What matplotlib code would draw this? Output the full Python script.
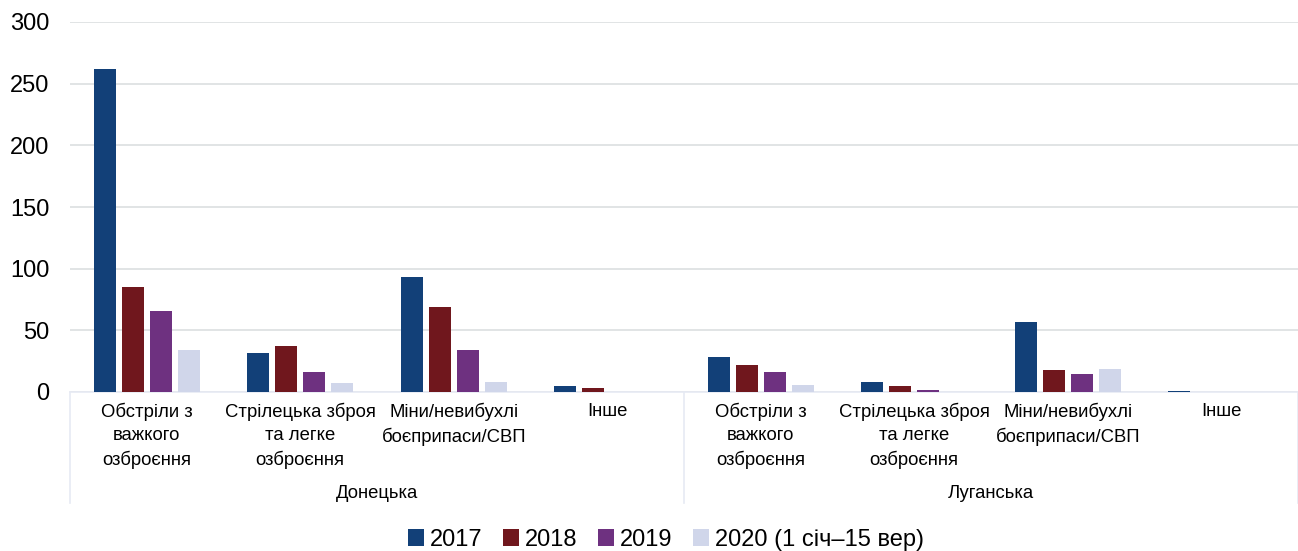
import matplotlib
matplotlib.use("Agg")
import matplotlib.pyplot as plt
import matplotlib.transforms as mtransforms
import numpy as np

plt.rcParams['font.family'] = ['Liberation Sans', 'DejaVu Sans']

# data
regions = ["Донецька", "Луганська"]
categories = ["Обстріли з\nважкого\nозброєння",
              "Стрілецька зброя\nта легке\nозброєння",
              "Міни/невибухлі\nбоєприпаси/СВП",
              "Інше"]
series_names = ["2017", "2018", "2019", "2020 (1 січ–15 вер)"]
colors = ["#124078", "#70171d", "#6e3180", "#d0d6ea"]

# per series: Донецька (4 categories) + Луганська (4 categories)
v2017 = [262, 32, 93, 5, 28, 8, 57, 1]
v2018 = [85, 37, 69, 3, 22, 5, 18, 0]
v2019 = [66, 16, 34, 0, 16, 2, 15, 0]
v2020 = [34, 7, 8, 0, 6, 0, 19, 0]
values = [v2017, v2018, v2019, v2020]

fig = plt.figure(figsize=(12.98, 5.51), dpi=100)
ax = fig.add_axes([70/1298, 1-392/551, 1-70/1298, 370/551])

labels = categories * len(regions)
pos = np.arange(len(labels))
step = 0.182
width = 0.143
for i, vals in enumerate(values):
    ax.bar(pos + (i - 1.5) * step, vals, width, color=colors[i], label=series_names[i], zorder=3)

ax.set_xlim(-0.5, len(labels) - 0.5)
ax.set_ylim(0, 300)
ax.set_yticks(range(0, 301, 50))
ax.tick_params(axis='y', length=0, pad=15, labelsize=17)
ax.set_xticks(pos)
ax.set_xticklabels(labels, fontsize=13.3)
for t in ax.get_xticklabels():
    t.set_linespacing(1.45)
ax.tick_params(axis='x', length=0, pad=8)
ax.grid(axis='y', color='#dcdfe0', linewidth=1.2, zorder=0)
for s in ['left', 'right', 'top']:
    ax.spines[s].set_visible(False)
ax.spines['bottom'].set_color('#e6eaf3')
ax.spines['bottom'].set_linewidth(1.2)

# region level of the axis
trans = mtransforms.blended_transform_factory(ax.transData, ax.transAxes)
for x in [-0.5, 3.5, 7.5]:
    ax.plot([x, x], [0, -0.30], transform=trans, color='#e6eaf3', lw=1.2, clip_on=False)
for k, reg in enumerate(regions):
    ax.text(k * 4 + 1.5, -0.273, reg, transform=trans, ha='center', va='center', fontsize=13.3)

fig.legend(loc='center', bbox_to_anchor=(0.513, 1-540/551), ncol=4, frameon=False,
           fontsize=17, handlelength=0.7, handleheight=0.7, handletextpad=0.25,
           columnspacing=0.85, borderpad=0)

fig.savefig("out.png", dpi=100)
